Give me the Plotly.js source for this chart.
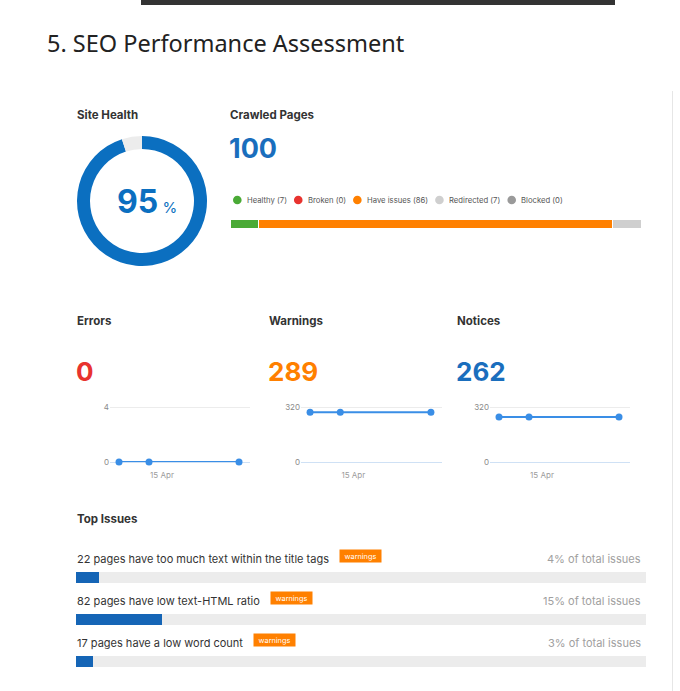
<!DOCTYPE html>
<html><head><meta charset="utf-8">
<script src="https://cdn.plot.ly/plotly-3.0.1.min.js"></script>
<style>html,body{margin:0;padding:0;background:#fff;overflow:hidden}</style>
</head><body><div id="chart" style="width:680px;height:691px"></div>
<script>
// ---- data ----
const pageTitle = '5. SEO Performance Assessment';
const siteHealthLabels = ['Healthy score', 'Remaining'];
const siteHealthValues = [95, 5];
const crawledTotal = 100;
const crawledCategories = ['Healthy', 'Broken', 'Have issues', 'Redirected', 'Blocked'];
const crawledCounts = [7, 0, 86, 7, 0];
const crawledColors = ['#4aaa36', '#e8332f', '#ff8000', '#cfcfcf', '#9a9a9a'];
const metricNames = ['Errors', 'Warnings', 'Notices'];
const metricTotals = [0, 289, 262];
const metricColors = ['#e8332f', '#ff8000', '#1a6ebd'];
const crawlDates = ['2024-04-13 13:36', '2024-04-14 13:36', '2024-04-17 13:36'];
const errorsSeries = [0, 0, 0];
const warningsSeries = [289, 289, 289];
const noticesSeries = [262, 262, 262];
const trendTickVals = ['2024-04-15'];
const trendTickText = ['15 Apr'];
const errorsTicks = [0, 4];
const warningsTicks = [0, 320];
const noticesTicks = [0, 320];
const topIssueLabels = ['22 pages have too much text within the title tags', '82 pages have low text-HTML ratio', '17 pages have a low word count'];
const topIssueTypes = ['warnings', 'warnings', 'warnings'];
const topIssueShares = [4, 15, 3];

// ---- helpers ----
const W = 680, H = 691;
const fx = p => p / W;
const fy = p => 1 - p / H;
const FONT = 'Inter, Roboto, sans-serif';
const ctx = document.createElement('canvas').getContext('2d');
function tw(text, size, weight) { ctx.font = (weight || 400) + ' ' + size + 'px Inter'; return ctx.measureText(text).width; }

const traces = [];
const annotations = [];
const shapes = [];

// top dark bar and right border
shapes.push({type: 'rect', xref: 'paper', yref: 'paper', x0: fx(141), x1: fx(615), y0: fy(5), y1: 1, fillcolor: '#333333', line: {width: 0}});
shapes.push({type: 'line', xref: 'paper', yref: 'paper', x0: fx(672.5), x1: fx(672.5), y0: 0, y1: fy(91), line: {color: '#e6e6e6', width: 1}});

function txt(text, x, y, size, color, opts) {
  annotations.push(Object.assign({text: text, xref: 'paper', yref: 'paper', x: fx(x), y: fy(y), xanchor: 'left', yanchor: 'middle', showarrow: false, borderpad: 0, font: {family: FONT, size: size, color: color}}, opts || {}));
}
const HS = 11.5; // section header size

// title
txt(pageTitle, 46, 42.5, 24, '#222', {font: {family: 'Noto Sans, Open Sans, sans-serif', size: 23.5, color: '#222'}});

// Site health donut
traces.push({type: 'pie', labels: siteHealthLabels, values: siteHealthValues, hole: 0.8, sort: false, direction: 'clockwise', rotation: 0,
  textinfo: 'none', hoverinfo: 'skip', showlegend: false,
  marker: {colors: ['#0b6fc0', '#ececec'], line: {width: 0}},
  domain: {x: [fx(77), fx(207)], y: [fy(266), fy(136)]}});
txt('<b>Site Health</b>', 76, 115, HS, '#333');
annotations.push({text: '<b>' + siteHealthValues[0] + '</b><span style="font-size:15px"> %</span>', xref: 'paper', yref: 'paper', x: fx(147), y: fy(201), xanchor: 'center', yanchor: 'middle', showarrow: false, font: {family: FONT, size: 32, color: '#0b6fc0'}});

// Crawled pages
txt('<b>Crawled Pages</b>', 229, 115, HS, '#333');
txt('<b>' + crawledTotal + '</b>', 228, 149, 27, '#1a6ebd');
const LS = 7.7;
let cur = 233;
crawledCategories.forEach((c, i) => {
  const label = c + ' (' + crawledCounts[i] + ')';
  shapes.push({type: 'circle', xref: 'paper', yref: 'paper', xsizemode: 'pixel', ysizemode: 'pixel', xanchor: fx(cur + 4.3), yanchor: fy(200), x0: -4.3, x1: 4.3, y0: -4.3, y1: 4.3, fillcolor: crawledColors[i], line: {width: 0}});
  txt(label, cur + 13, 200, LS, '#555');
  cur = cur + 13 + tw(label, LS) + 8;
});
crawledCategories.forEach((c, i) => {
  traces.push({type: 'bar', orientation: 'h', name: c, x: [crawledCounts[i]], y: [0], width: 1, xaxis: 'x', yaxis: 'y',
    marker: {color: crawledColors[i], line: {color: '#fff', width: 1}}, hoverinfo: 'skip', showlegend: false});
});

// metrics
const metricX = [76, 268, 456];
metricNames.forEach((m, i) => {
  txt('<b>' + m + '</b>', metricX[i], 321, HS, '#333');
  txt('<b>' + metricTotals[i] + '</b>', metricX[i] - 1, 371, 26, metricColors[i]);
});
const series = [errorsSeries, warningsSeries, noticesSeries];
series.forEach((s, i) => {
  traces.push({type: 'scatter', mode: 'lines+markers', x: crawlDates, y: s, xaxis: 'x' + (i + 2), yaxis: 'y' + (i + 2),
    line: {color: '#3a8ee6', width: 2}, marker: {color: '#3a8ee6', size: 7}, cliponaxis: false, hoverinfo: 'skip', showlegend: false});
});

// top issues
txt('<b>Top Issues</b>', 76, 519, HS, '#333');
traces.push({type: 'bar', orientation: 'h', name: 'share', x: topIssueShares, y: [0, 1, 2], width: 0.26, xaxis: 'x5', yaxis: 'y5',
  marker: {color: '#1565b6'}, hoverinfo: 'skip', showlegend: false});
traces.push({type: 'bar', orientation: 'h', name: 'rest', x: topIssueShares.map(v => 100 - v), y: [0, 1, 2], width: 0.26, xaxis: 'x5', yaxis: 'y5',
  marker: {color: '#ececec'}, hoverinfo: 'skip', showlegend: false});
const IS = 11;
topIssueLabels.forEach((l, i) => {
  annotations.push({text: l, xref: 'paper', yref: 'y5', x: fx(76), y: i, yshift: 19, xanchor: 'left', yanchor: 'middle', showarrow: false, borderpad: 0, font: {family: FONT, size: IS, color: '#333'}});
  annotations.push({text: topIssueShares[i] + '% of total issues', xref: 'paper', yref: 'y5', x: fx(642), y: i, yshift: 19, xanchor: 'right', yanchor: 'middle', showarrow: false, borderpad: 0, font: {family: FONT, size: IS, color: '#a0a0a0'}});
  const bx = 77 + tw(l, IS) + 10;
  annotations.push({text: topIssueTypes[i], xref: 'paper', yref: 'y5', x: fx(bx), y: i, yshift: 21.5, xanchor: 'left', yanchor: 'middle', showarrow: false, borderpad: 0, width: 41, height: 12, align: 'center', bgcolor: '#ff8000', font: {family: FONT, size: 7.3, color: '#fff'}});
});

const layout = {
  width: W, height: H, margin: {l: 0, r: 0, t: 0, b: 0}, paper_bgcolor: '#fff', plot_bgcolor: 'rgba(0,0,0,0)',
  barmode: 'stack', hovermode: false, showlegend: false, font: {family: FONT},
  annotations: annotations, shapes: shapes,
  xaxis: {domain: [fx(230), fx(641)], range: [0, crawledTotal], visible: false, fixedrange: true},
  yaxis: {domain: [fy(228), fy(219)], range: [-0.5, 0.5], visible: false, fixedrange: true},
  xaxis5: {domain: [fx(76), fx(646)], range: [0, 100], visible: false, anchor: 'y5'},
  yaxis5: {domain: [fy(682.5), fy(556.5)], range: [2.5, -0.5], visible: false, anchor: 'x5'}
};
const trendRange = ['2024-04-13 06:24', '2024-04-17 22:24'];
const trendDomains = [[110, 250], [301, 442], [490, 630]];
const trendTicks = [errorsTicks, warningsTicks, noticesTicks];
const pad = 0.02; // headroom so the top gridline is drawn
trendDomains.forEach((d, i) => {
  const n = i + 2;
  layout['xaxis' + n] = {domain: [fx(d[0]), fx(d[1])], type: 'date', range: trendRange, tickmode: 'array', tickvals: trendTickVals, ticktext: trendTickText,
    showgrid: false, zeroline: false, showline: false, ticks: '', ticklabelstandoff: 7, tickfont: {family: FONT, size: 8, color: '#9b9b9b'}, anchor: 'y' + n, automargin: false};
  const t = trendTicks[i];
  const top = t[t.length - 1];
  layout['yaxis' + n] = {domain: [fy(462), fy(462 - 55 * (1 + pad))], range: [t[0], top * (1 + pad)], tickmode: 'array', tickvals: t,
    showgrid: true, gridcolor: '#ececec', gridwidth: 1, zeroline: true, zerolinecolor: '#cfe1f5', zerolinewidth: 1, showline: false, ticks: '',
    tickfont: {family: FONT, size: 8, color: '#8a8a8a'}, anchor: 'x' + n, automargin: false};
});

Plotly.newPlot('chart', traces, layout, {staticPlot: true, displayModeBar: false});
</script></body></html>
